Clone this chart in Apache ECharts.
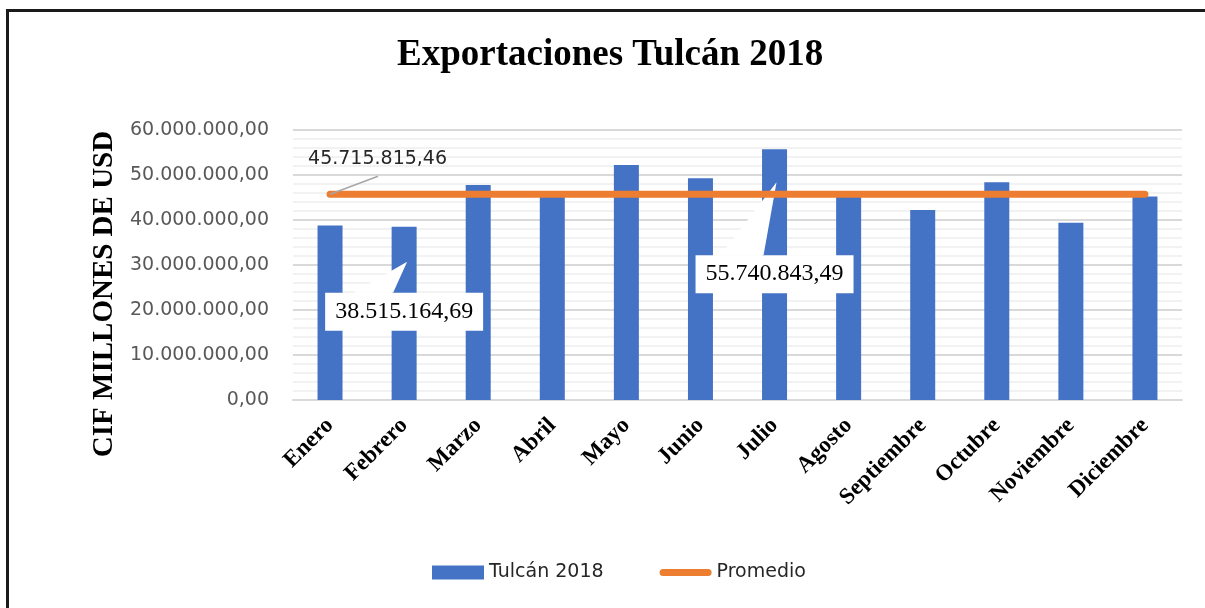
<!DOCTYPE html>
<html>
<head>
<meta charset="utf-8">
<title>Exportaciones Tulcán 2018</title>
<script src="https://cdn.jsdelivr.net/npm/echarts@6/dist/echarts.min.js"></script>
<style>
  html, body { margin: 0; padding: 0; background: #fff; overflow: hidden; }
  #frame {
    position: absolute; left: 6px; top: 9px; width: 1205px; height: 608px;
    border-top: 3px solid #1a1a1a; border-left: 3px solid #1a1a1a;
  }
  #chart { position: absolute; left: 0; top: 0; width: 1205px; height: 608px; }
</style>
</head>
<body>
<div id="frame"></div>
<div id="chart"></div>
<script>
// Data
const months = ['Enero', 'Febrero', 'Marzo', 'Abril', 'Mayo', 'Junio', 'Julio',
  'Agosto', 'Septiembre', 'Octubre', 'Noviembre', 'Diciembre'];

// CIF exports per month (USD)
const exports2018 = [38800000, 38515164.69, 47800000, 45600000, 52200000, 49300000,
  55740843.49, 45400000, 42200000, 48400000, 39400000, 45200000];

// yearly average, repeated for each month
const promedio = 45715815.46;
const promedioLine = [45715815.46, 45715815.46, 45715815.46, 45715815.46, 45715815.46, 45715815.46,
  45715815.46, 45715815.46, 45715815.46, 45715815.46, 45715815.46, 45715815.46];

const yTickLabels = ['0,00', '10.000.000,00', '20.000.000,00', '30.000.000,00',
  '40.000.000,00', '50.000.000,00', '60.000.000,00'];

// 38515164.69 -> "38.515.164,69"
const fmt = (n) => {
  const parts = n.toFixed(2).split('.');
  return parts[0].replace(/\B(?=(\d{3})+(?!\d))/g, '.') + ',' + parts[1];
};

const SERIF = '"Liberation Serif", "Times New Roman", serif';
const SANS = '"DejaVu Sans", sans-serif';

const chart = echarts.init(document.getElementById('chart'));

const option = {
  animation: false,
  title: {
    text: 'Exportaciones Tulcán 2018',
    left: 392,
    top: 32,
    textStyle: { fontFamily: SERIF, fontWeight: 'bold', fontSize: 37, color: '#000' }
  },
  legend: {
    left: 427,
    top: 558,
    itemWidth: 52,
    itemHeight: 14,
    itemGap: 56,
    textStyle: { fontFamily: SANS, fontSize: 19, color: '#262626' },
    data: [
      { name: 'Tulcán 2018', icon: 'rect' },
      { name: 'Promedio', icon: 'path://M3.5,0 L48.5,0 A3.5,3.5 0 0 1 48.5,7 L3.5,7 A3.5,3.5 0 0 1 3.5,0 Z' }
    ]
  },
  grid: { left: 293, right: 23, top: 130, bottom: 208 },
  xAxis: {
    type: 'category',
    data: months,
    axisLine: { lineStyle: { color: '#d9d9d9', width: 2 } },
    axisTick: { show: false },
    axisLabel: {
      interval: 0,
      rotate: 45,
      margin: 22,
      fontFamily: SERIF,
      fontWeight: 'bold',
      fontSize: 23,
      color: '#000'
    }
  },
  yAxis: {
    type: 'value',
    min: 0,
    max: 60000000,
    interval: 10000000,
    axisLabel: {
      formatter: (v) => yTickLabels[Math.round(v / 10000000)],
      fontFamily: SANS,
      fontSize: 19,
      color: '#595959',
      margin: 24
    },
    splitLine: { lineStyle: { color: '#d9d9d9', width: 2 } },
    minorTick: { show: false, splitNumber: 5 },
    minorSplitLine: { show: true, lineStyle: { color: '#eeeeee', width: 1.5 } }
  },
  series: [
    {
      name: 'Tulcán 2018',
      type: 'bar',
      data: exports2018,
      barWidth: 25,
      itemStyle: { color: '#4472C4' },
      z: 2
    },
    {
      name: 'Promedio',
      type: 'line',
      data: promedioLine,
      symbol: 'none',
      lineStyle: { color: '#ED7D31', width: 7, cap: 'round' },
      itemStyle: { color: '#ED7D31' },
      z: 5
    }
  ]
};

chart.setOption(option);

// Callouts, placed from the bar tops given by the chart's own scales
const callout = (p, text, tip, baseL, baseR, boxTop) => [
  {
    type: 'polygon',
    shape: { points: [[p[0] + tip[0], p[1] + tip[1]], [p[0] + baseL, p[1] + boxTop], [p[0] + baseR, p[1] + boxTop]] },
    style: { fill: '#fff' },
    z: 3
  },
  {
    type: 'rect',
    shape: { x: p[0] - 79, y: p[1] + boxTop, width: 158, height: 38 },
    style: { fill: '#fff' },
    z: 3
  },
  {
    type: 'text',
    x: p[0],
    y: p[1] + boxTop + 19,
    style: {
      text: text, fontFamily: SERIF, fontSize: 24, fill: '#000',
      align: 'center', verticalAlign: 'middle'
    },
    z: 4
  }
];

const pAvg = chart.convertToPixel({ seriesIndex: 1 }, [0, promedio]);
const pFeb = chart.convertToPixel({ seriesIndex: 0 }, [1, exports2018[1]]);
const pJul = chart.convertToPixel({ seriesIndex: 0 }, [6, exports2018[6]]);

chart.setOption({
  graphic: [
    {
      type: 'text',
      x: 105,
      y: 294,
      rotation: Math.PI / 2,
      style: {
        text: 'CIF MILLONES DE USD', fontFamily: SERIF, fontWeight: 'bold', fontSize: 29, fill: '#000',
        align: 'center', verticalAlign: 'middle'
      }
    },
    {
      type: 'line',
      shape: { x1: pAvg[0], y1: pAvg[1], x2: pAvg[0] + 48, y2: pAvg[1] - 18 },
      style: { stroke: '#a6a6a6', lineWidth: 1.5 },
      z: 6
    },
    {
      type: 'text',
      x: pAvg[0] - 22,
      y: pAvg[1] - 35,
      style: {
        text: fmt(promedio), fontFamily: SANS, fontSize: 19, fill: '#262626',
        verticalAlign: 'middle'
      },
      z: 6
    },
    ...callout(pFeb, fmt(exports2018[1]), [3, 35], -51, -11, 66),
    ...callout(pJul, fmt(exports2018[6]), [2, 33], -54, -11, 106)
  ]
});

window.addEventListener('resize', () => chart.resize());
</script>
</body>
</html>
